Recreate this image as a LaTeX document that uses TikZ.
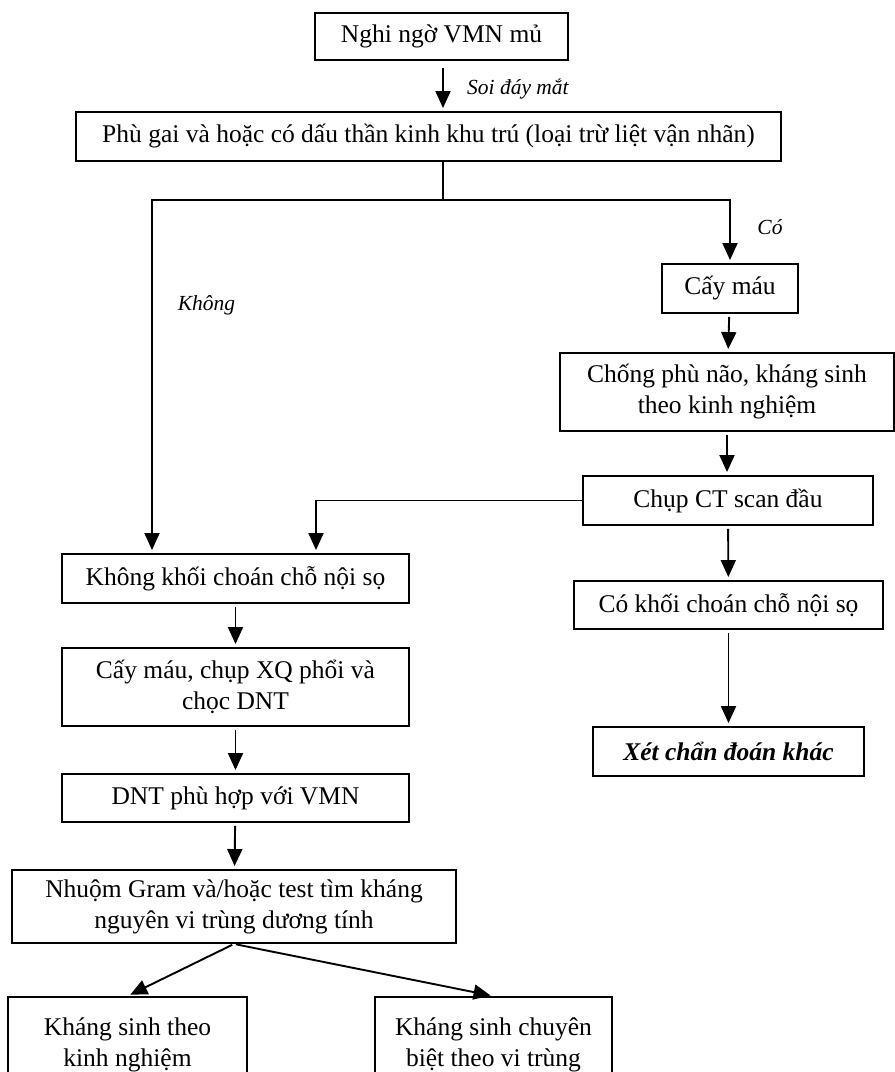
\documentclass[tikz,border=0pt]{standalone}
\usepackage{fontspec}
\setmainfont{Liberation Serif}
\usetikzlibrary{arrows.meta}
\tikzset{
  bx/.style={draw,line width=1.9pt,align=center,inner sep=0pt,font=\fontsize{25.5}{31}\selectfont},
  ar/.style={line width=1.9pt,-{Triangle[length=17pt,width=15pt]},shorten >=3pt},
  ln/.style={line width=1.9pt},
  lb/.style={font=\fontsize{21.5}{26}\selectfont\itshape,inner sep=0pt}
}

\begin{document}
\begin{tikzpicture}[x=1pt,y=-1pt]
\useasboundingbox (0,0) rectangle (895,1072);
% right-hand branch
\node[bx,minimum width=253pt,minimum height=47pt] (ngo) at (441.5,36.5) {Nghi ngờ VMN mủ};
\node[bx,minimum width=705pt,minimum height=49pt] (phu) at (428.5,136.5) {Phù gai và hoặc có dấu thần kinh khu trú (loại trừ liệt vận nhãn)};
\node[bx,minimum width=136pt,minimum height=49pt] (cay) at (730,288.5) {Cấy máu};
\node[bx,minimum width=334pt,minimum height=78pt] (chong) at (727,392) {Chống phù não, kháng sinh\\theo kinh nghiệm};
\node[bx,minimum width=290pt,minimum height=49pt] (ct) at (728,500.5) {Chụp CT scan đầu};
\node[bx,minimum width=309pt,minimum height=48pt] (cokhoi) at (728.5,605) {Có khối choán chỗ nội sọ};
\node[bx,minimum width=271pt,minimum height=49pt,font=\fontsize{25.5}{31}\selectfont\bfseries\itshape] (xet) at (728.5,751.5) {Xét chẩn đoán khác};
% left-hand branch
\node[bx,minimum width=347pt,minimum height=49pt] (khong) at (235.5,578.5) {Không khối choán chỗ nội sọ};
\node[bx,minimum width=347pt,minimum height=78pt] (xq) at (235.5,687) {Cấy máu, chụp XQ phổi và\\chọc DNT};
\node[bx,minimum width=347pt,minimum height=48pt] (dnt) at (235.5,798) {DNT phù hợp với VMN};
\node[bx,minimum width=444pt,minimum height=73pt] (gram) at (234,906.5) {Nhuộm Gram và/hoặc test tìm kháng\\nguyên vi trùng dương tính};
\node[bx,minimum width=239pt,minimum height=96pt] (ks1) at (127.5,1045) {Kháng sinh theo\\kinh nghiệm};
\node[bx,minimum width=237pt,minimum height=96pt] (ks2) at (493.5,1045) {Kháng sinh chuyên\\biệt theo vi trùng};
% labels
\node[lb,anchor=west] (soi) at (467,89) {Soi đáy mắt};
\node[lb] (co) at (770,227) {Có};
\node[lb] (kh) at (206.5,305) {Không};
% connectors
\coordinate (split) at (443,200);
\coordinate (kleft) at (152,200);
\coordinate (ctleft) at (316,0);
\draw[ar,shorten <=7pt] (split |- ngo.south) -- (split |- phu.north);
\draw[ln] (split |- phu.south) -- (split);
\draw[ar] (split) -| (cay.north);
\draw[ar] (split) -- (kleft) -- (kleft |- khong.north);
\draw[ar,shorten <=3pt] (cay) -- (chong);
\draw[ar,shorten <=3pt] (chong) -- (chong |- ct.north);
\draw[ar] (ct.west) -| (ctleft |- khong.north);
\draw[ar,shorten <=3pt] (ct) -- (cokhoi);
\draw[ar,shorten <=3pt] (cokhoi) -- (xet);
\draw[ar,shorten <=3pt] (khong) -- (xq);
\draw[ar,shorten <=3pt] (xq) -- (dnt);
\draw[ar,shorten <=3pt] (dnt) -- (gram);
\draw[ar,shorten <=2pt] (gram.south) -- (ks1.north);
\draw[ar,shorten <=2pt] (gram.south) -- (ks2.north);
\end{tikzpicture}
\end{document}
